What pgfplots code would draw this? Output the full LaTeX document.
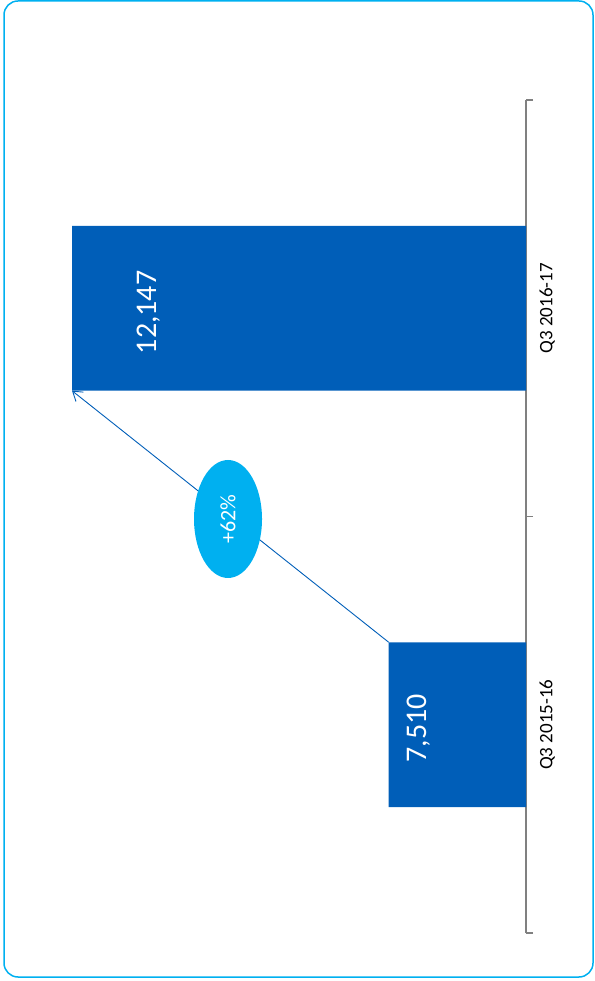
\documentclass[border=0pt]{standalone}
\usepackage{fontspec}
\setmainfont{Carlito}
\usepackage{pgfplots}
\pgfplotsset{compat=1.18}
\usetikzlibrary{shapes.geometric,arrows.meta}
\definecolor{barblue}{RGB}{0,94,184}
\definecolor{cyanb}{RGB}{0,176,240}
\definecolor{axgray}{RGB}{128,128,128}
\begin{document}
\begin{tikzpicture}
\begin{axis}[
 at={(0pt,0pt)}, anchor=south west,
 scale only axis, width=516pt, height=833pt,
 xbar, bar width=0.396,
 x dir=reverse,
 xmin=5500, xmax=13055,
 ymin=-0.5, ymax=1.5,
 hide x axis,
 axis y line*=right,
 y axis line style={axgray, line width=1.2pt, -},
 ytick={0,1}, yticklabels={Q3 2015-16, Q3 2016-17},
 minor ytick={-0.5,0.5,1.5},
 major tick length=0pt, minor tick length=7pt,
 tick align=outside,
 tick style={axgray, line width=1.2pt},
 yticklabel shift=10pt,
 yticklabel style={rotate=90, anchor=north, font=\fontsize{19}{21}\selectfont},
 clip=true,
]
\addplot[fill=barblue, draw=none] coordinates {(7510,0) (12147,1)};
\draw[barblue, line width=0.9pt, -{Straight Barb[length=9pt,width=12pt]}] (axis cs:7510,0.198) -- (axis cs:12147,0.802);
\node[ellipse, fill=cyanb, minimum width=68pt, minimum height=118pt, inner sep=0pt, text=white, font=\fontsize{22}{24}\selectfont] at (axis cs:9863,0.494) {\rotatebox{90}{+62\%}};
\node[text=white, rotate=90, font=\fontsize{30}{32}\selectfont] at (axis cs:11020,0.99) {12,147};
\node[text=white, rotate=90, font=\fontsize{30}{32}\selectfont] at (axis cs:7067,-0.008) {7,510};
\end{axis}
\draw[cyanb, line width=1.5pt, rounded corners=14pt] (-6pt,-44pt) rectangle (583pt,932pt);
\pgfresetboundingbox
\useasboundingbox (-10pt,-48pt) rectangle (584pt,933pt);
\end{tikzpicture}
\end{document}
